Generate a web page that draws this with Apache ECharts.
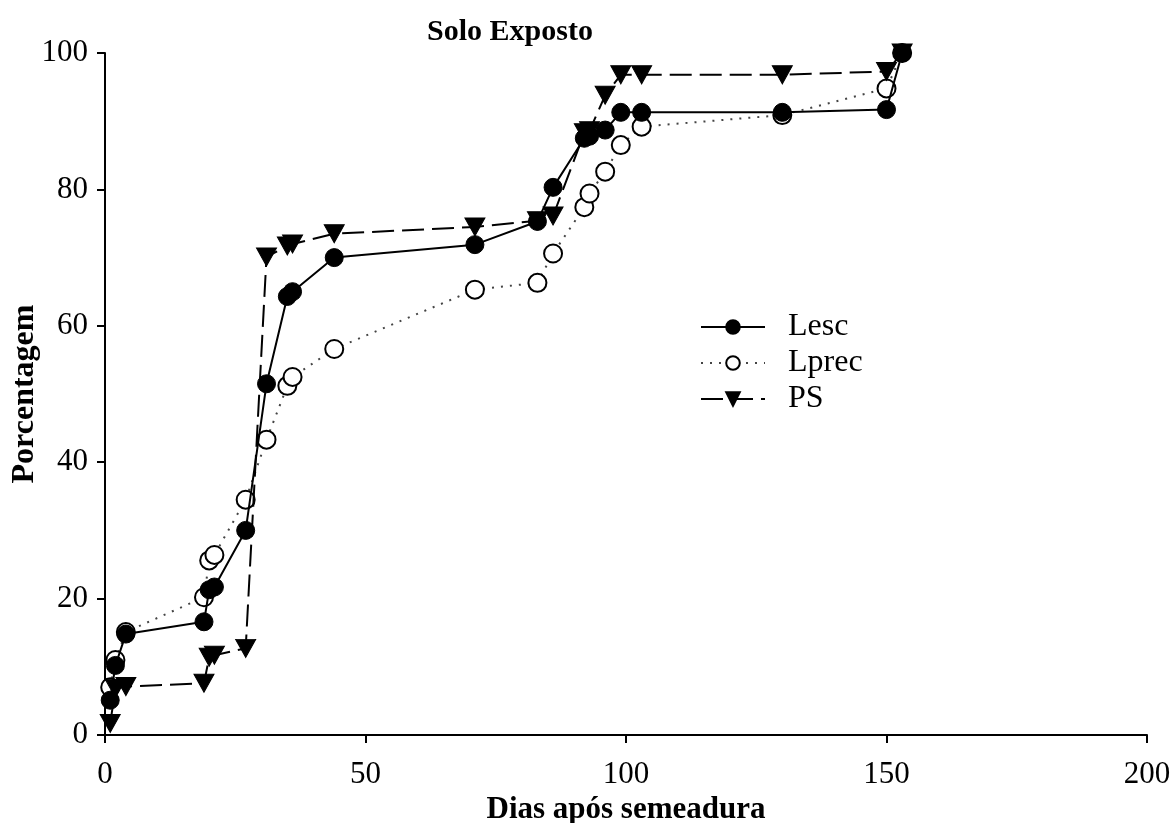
<!DOCTYPE html>
<html>
<head>
<meta charset="utf-8">
<script src="https://cdn.jsdelivr.net/npm/echarts@6/dist/echarts.min.js"></script>
<style>html,body{margin:0;padding:0;background:#fff}#c{width:1174px;height:823px}</style>
</head>
<body>
<div id="c"></div>
<script>
const days  = [1, 2, 4, 19, 20, 21, 27, 31, 35, 36, 44, 71, 83, 86, 92, 93, 96, 99, 103, 130, 150, 153];
const lesc  = [5.1, 10.2, 14.8, 16.6, 21.3, 21.7, 30.0, 51.5, 64.3, 65.0, 70.0, 71.9, 75.3, 80.3, 87.5, 87.8, 88.7, 91.3, 91.3, 91.3, 91.7, 100];
const lprec = [7.0, 11.0, 15.1, 20.2, 25.6, 26.4, 34.5, 43.3, 51.2, 52.5, 56.6, 65.3, 66.3, 70.6, 77.4, 79.4, 82.6, 86.5, 89.2, 90.9, 94.8, 100];
const ps    = [1.7, 6.8, 7.1, 7.6, 11.4, 11.7, 12.7, 70.1, 71.7, 72.0, 73.5, 74.5, 75.4, 76.1, 88.3, 88.6, 93.8, 96.8, 96.8, 96.8, 97.3, 100];
const xTicks = [0, 50, 100, 150, 200];
const yTicks = [0, 20, 40, 60, 80, 100];

function pairs(vals){ return days.map((d,i)=>[d, vals[i]]); }
const serif = '"Liberation Serif", "DejaVu Serif", serif';

const chart = echarts.init(document.getElementById('c'));
chart.setOption({
  animation: false,
  backgroundColor: '#fff',
  title: {
    text: 'Solo Exposto', left: 505, top: 12, textAlign: 'center',
    textStyle: {fontFamily: serif, fontWeight: 'bold', fontSize: 30, color: '#000'}
  },
  legend: {
    orient: 'vertical', left: 695, top: 306, itemWidth: 64, itemHeight: 17, itemGap: 4,
    textStyle: {fontFamily: serif, fontSize: 32, color: '#000', padding: [0,0,0,18]},
    data: ['Lesc', 'Lprec', 'PS']
  },
  grid: {left: 105, right: 27, top: 53, bottom: 88, containLabel: false, outerBoundsMode: 'none'},
  xAxis: {
    type: 'value', min: xTicks[0], max: xTicks[xTicks.length-1], interval: 50,
    name: 'Dias após semeadura', nameLocation: 'middle', nameGap: 54,
    nameTextStyle: {fontFamily: serif, fontWeight: 'bold', fontSize: 31, color: '#000'},
    axisLine: {lineStyle: {color: '#000', width: 2}},
    axisTick: {inside: false, length: 8, lineStyle: {color: '#000', width: 2}},
    axisLabel: {fontFamily: serif, fontSize: 31, color: '#000', margin: 24},
    splitLine: {show: false}
  },
  yAxis: {
    type: 'value', min: yTicks[0], max: yTicks[yTicks.length-1], interval: 20,
    name: 'Porcentagem', nameLocation: 'middle', nameGap: 64, nameMoveOverlap: false,
    nameTextStyle: {fontFamily: serif, fontWeight: 'bold', fontSize: 32, color: '#000'},
    axisLine: {lineStyle: {color: '#000', width: 2}},
    axisTick: {inside: false, length: 8, lineStyle: {color: '#000', width: 2}},
    axisLabel: {fontFamily: serif, fontSize: 31, color: '#000', margin: 17},
    splitLine: {show: false}
  },
  series: [
    {
      name: 'Lprec', type: 'line', data: pairs(lprec), symbol: 'circle', symbolSize: 18,
      itemStyle: {color: '#fff', borderColor: '#000', borderWidth: 2},
      lineStyle: {color: '#444', width: 2, type: [2, 7]}, z: 2
    },
    {
      name: 'Lesc', type: 'line', data: pairs(lesc), symbol: 'circle', symbolSize: 18,
      itemStyle: {color: '#000', borderColor: '#000', borderWidth: 1},
      lineStyle: {color: '#000', width: 2, type: 'solid'}, z: 3
    },
    {
      name: 'PS', type: 'line', data: pairs(ps), symbol: 'triangle', symbolRotate: 180, symbolSize: [20, 18],
      itemStyle: {color: '#000', borderColor: '#000', borderWidth: 1},
      lineStyle: {color: '#000', width: 2, type: [22, 8]}, z: 4
    }
  ]
});
</script>
</body>
</html>
